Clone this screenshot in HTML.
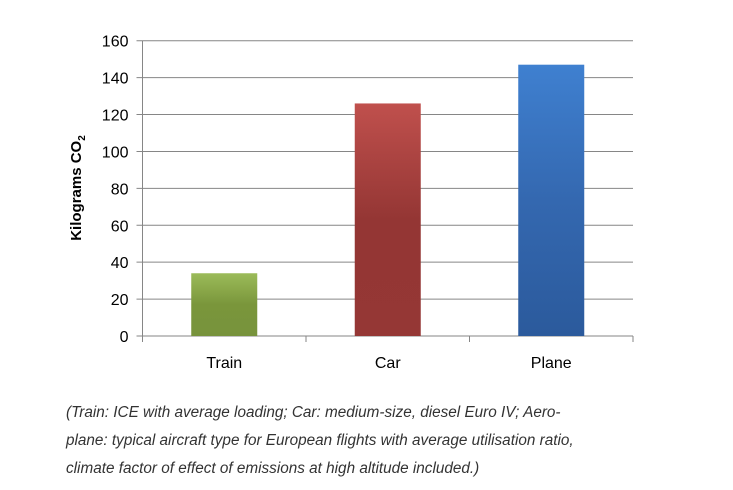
<!DOCTYPE html>
<html><head><meta charset="utf-8"><style>
body{margin:0;background:#fff;width:733px;height:490px;overflow:hidden;font-family:"Liberation Sans",sans-serif}
#cap{position:absolute;left:66px;top:399px;font-style:italic;font-size:15.3px;line-height:28px;color:#333;width:670px}
</style></head><body>
<svg width="733" height="390" style="position:absolute;left:0;top:0">
<defs>
<linearGradient id="g0" x1="0" y1="0" x2="0" y2="1"><stop offset="0" stop-color="#9bbb59"/><stop offset="0.5" stop-color="#7a963b"/><stop offset="1" stop-color="#77933c"/></linearGradient>
<linearGradient id="g1" x1="0" y1="0" x2="0" y2="1"><stop offset="0" stop-color="#c0504d"/><stop offset="0.5" stop-color="#943634"/><stop offset="1" stop-color="#953735"/></linearGradient>
<linearGradient id="g2" x1="0" y1="0" x2="0" y2="1"><stop offset="0" stop-color="#3f80d0"/><stop offset="0.5" stop-color="#3468b0"/><stop offset="1" stop-color="#2b5a9c"/></linearGradient>
</defs>
<g id="grid"></g><g id="bars"></g><g id="labels"></g>
<text transform="translate(81,188) rotate(-90)" text-anchor="middle" font-size="15" font-weight="bold" fill="#000">Kilograms CO<tspan font-size="10" dy="4">2</tspan></text>
</svg>
<div id="cap">(Train: ICE with average loading; Car: medium-size, diesel Euro IV; Aero-<br>plane: typical aircraft type for European flights with average utilisation ratio,<br>climate factor of effect of emissions at high altitude included.)</div>
<script>
const categories=["Train","Car","Plane"];
const values=[34,126,147];
const ticks=[0,20,40,60,80,100,120,140,160];
const colors=["url(#g0)","url(#g1)","url(#g2)"];
const ns="http://www.w3.org/2000/svg";
const L=142.5,R=633,T=40.7,B=336,maxV=160;
const y=v=>B-(v/maxV)*(B-T);
const band=(R-L)/categories.length;
const x=i=>L+band*i;
const grid=document.getElementById('grid'),bars=document.getElementById('bars'),lab=document.getElementById('labels');
function mk(tag,a,p){const e=document.createElementNS(ns,tag);for(const k in a)e.setAttribute(k,a[k]);p.appendChild(e);return e;}
ticks.forEach(t=>{
 const l=mk('line',{x1:L-6,x2:R,y1:y(t),y2:y(t),stroke:'#868686','stroke-width':1},grid);
 
 
 const tx=mk('text',{x:L-14,y:y(t)+6,'text-anchor':'end','font-size':16,fill:'#000'},lab);
 tx.textContent=t;
 
 
});
mk('line',{x1:L,x2:L,y1:T,y2:B+6,stroke:'#868686'},grid);
for(let i=0;i<=categories.length;i++)mk('line',{x1:x(i),x2:x(i),y1:B,y2:B+6,stroke:'#868686'},grid);
categories.forEach((c,i)=>{
 const bw=66,cx=x(i)+band/2;
 const r=mk('rect',{x:cx-bw/2,y:y(values[i]),width:bw,height:B-y(values[i]),fill:colors[i]},bars);
 
 
 const t=mk('text',{x:cx,y:368,'text-anchor':'middle','font-size':16,fill:'#000'},lab);
 t.textContent=c;
 
 
});
</script>
</body></html>
